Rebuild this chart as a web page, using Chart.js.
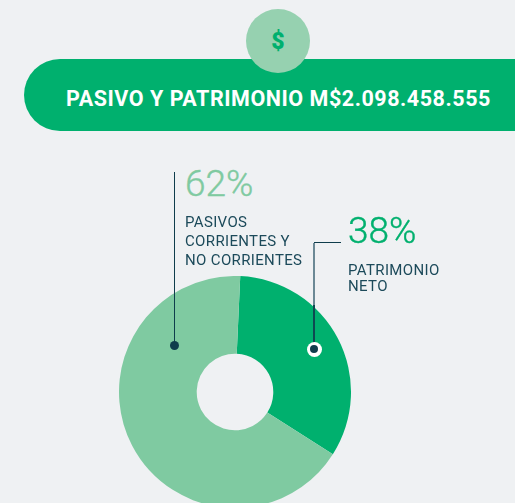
<!DOCTYPE html>
<html><head><meta charset="utf-8">
<script src="https://cdn.jsdelivr.net/npm/chart.js@4"></script>
<style>
html,body{margin:0;padding:0;width:515px;height:503px;overflow:hidden;background:#eff1f3;font-family:Roboto,sans-serif}
.a{position:absolute;white-space:nowrap}
#pill{left:24px;top:59px;width:560px;height:72px;border-radius:36px;background:#00b06e}
#coin{left:246px;top:9px;width:64px;height:64px;border-radius:50%;background:#96d1b0;color:#00b06e;font-weight:900;font-size:23px;line-height:66px;text-align:center}
#title{left:66px;top:86px;color:#fff;font-weight:700;font-size:21.5px;line-height:26px;letter-spacing:.54px}
.pct{font-weight:300;font-size:37px;line-height:42px;-webkit-text-stroke:.4px currentColor}
.lab{color:#1c4a5a;font-size:15px;letter-spacing:.35px}
.ln{background:#0f3d4c}
.dot{border-radius:50%;background:#0f3d4c}
#cv{position:absolute;left:119px;top:276px}
</style></head><body>
<div class="a" id="pill"></div>
<div class="a" id="coin">$</div>
<div class="a" id="title">PASIVO Y PATRIMONIO M$2.098.458.555</div>
<canvas id="cv" width="232" height="232"></canvas>
<div class="a pct" id="p62" style="left:185px;top:163px;color:#7fcaa1"></div>
<div class="a lab" style="left:185px;top:213px;line-height:19px">PASIVOS<br>CORRIENTES Y<br>NO CORRIENTES</div>
<div class="a pct" id="p38" style="left:348px;top:210px;color:#00b06e"></div>
<div class="a lab" style="left:348px;top:262px;line-height:16px">PATRIMONIO<br>NETO</div>
<div class="a ln" style="left:174px;top:172px;width:1px;height:173px"></div>
<div class="a dot" style="left:170px;top:341px;width:9px;height:9px"></div>
<div class="a ln" style="left:314px;top:242px;width:27px;height:1px"></div>
<div class="a" style="left:313px;top:243px;width:2px;height:62px;background:#6c8995"></div>
<div class="a" style="left:313px;top:305px;width:2px;height:40px;background:#0e4a52"></div>
<div class="a" style="left:306.5px;top:341.5px;width:15px;height:15px;border-radius:50%;background:#fff"></div>
<div class="a dot" style="left:310px;top:345px;width:8px;height:8px"></div>
<script>
const categories = ["Patrimonio neto", "Pasivos corrientes y no corrientes"];
// Percentages as printed on the reference
const printedPercent = [38, 62];
// Slice sizes as actually drawn in the reference (the artwork's wedge is narrower than its label)
const drawnSlices = [33.3, 66.7];
const sliceColors = ["#00b06e", "#7fcaa1"];
document.getElementById("p38").textContent = printedPercent[0] + "%";
document.getElementById("p62").textContent = printedPercent[1] + "%";
new Chart(document.getElementById("cv"), {
  type: "doughnut",
  data: { labels: categories, datasets: [{ data: drawnSlices, backgroundColor: sliceColors, borderWidth: 0 }] },
  options: {
    responsive: false, animation: false, cutout: "33%", rotation: 2.6,
    plugins: { legend: { display: false }, tooltip: { enabled: false } }
  }
});
</script>
</body></html>
